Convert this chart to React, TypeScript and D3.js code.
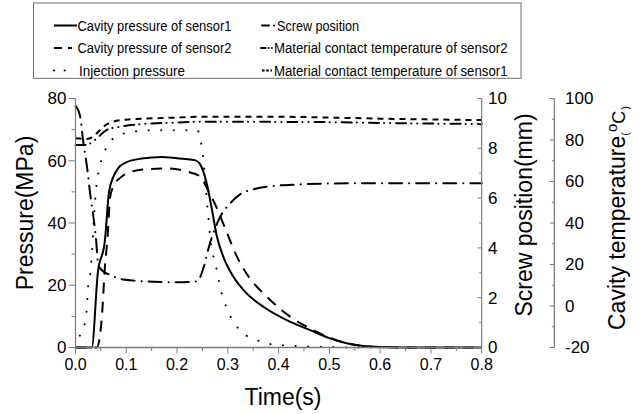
import React from "react";
import * as d3 from "d3";

// ---- data ----
const cp1Time = [0, 0.032, 0.044, 0.058, 0.066, 0.075, 0.084, 0.1, 0.13, 0.17, 0.2, 0.235, 0.245, 0.258, 0.268, 0.278, 0.291, 0.311, 0.337, 0.37, 0.416, 0.462, 0.5, 0.534, 0.567, 0.6, 0.65, 0.8];
const cp1Values = [0, 0, 24, 34.5, 50, 55, 57.6, 59.5, 60.7, 61.2, 60.8, 60.2, 59, 53, 45, 36, 29.2, 22.7, 17.4, 13.1, 8.8, 5.6, 3, 1.35, 0.5, 0.15, 0, 0];

const cp2Time = [0, 0.042, 0.052, 0.058, 0.063, 0.068, 0.075, 0.088, 0.11, 0.14, 0.18, 0.22, 0.245, 0.258, 0.275, 0.298, 0.317, 0.34, 0.377, 0.422, 0.468, 0.5, 0.534, 0.567, 0.6, 0.65, 0.8];
const cp2Values = [0, 0, 10, 26, 35, 48, 52, 54.5, 56.5, 57.3, 57.5, 56.5, 55, 51.5, 46, 37, 29.5, 23, 16.3, 10, 5.6, 3.2, 1.4, 0.5, 0.1, 0, 0];

const injTime = [0, 0.009, 0.019, 0.022, 0.025, 0.03, 0.033, 0.036, 0.042, 0.048, 0.055, 0.065, 0.088, 0.113, 0.15, 0.24, 0.247, 0.252, 0.26, 0.265, 0.278, 0.288, 0.298, 0.311, 0.33, 0.357, 0.38, 0.42, 0.5, 0.55, 0.8];
const injValues = [0, 4, 8.3, 12, 20, 25, 32, 41, 53, 58.5, 62, 65.5, 68.3, 69.3, 69.8, 69.8, 66, 60, 45, 36, 25, 17.4, 12.6, 8.3, 4.6, 2.4, 1.2, 0.6, 0.2, 0, 0];

const screwTime = [0, 0.009, 0.015, 0.023, 0.03, 0.035, 0.04, 0.045, 0.055, 0.068, 0.088, 0.12, 0.153, 0.212, 0.24, 0.252, 0.265, 0.285, 0.305, 0.324, 0.35, 0.377, 0.442, 0.508, 0.6, 0.8];
const screwValues = [9.7, 9.3, 8.3, 7.2, 6.0, 5.3, 4.45, 3.3, 3.05, 2.92, 2.75, 2.68, 2.64, 2.62, 2.66, 3.2, 4.2, 5.25, 5.8, 6.15, 6.35, 6.46, 6.55, 6.59, 6.6, 6.6];

const temp1Time = [0, 0.02, 0.035, 0.045, 0.055, 0.074, 0.1, 0.12, 0.186, 0.25, 0.4, 0.5, 0.6, 0.8];
const temp1Values = [80.8, 80.5, 81.6, 84, 86.4, 88.8, 89.8, 90.1, 90.7, 91.2, 91.2, 90.8, 90.3, 89.6];

const temp2Time = [0, 0.018, 0.03, 0.042, 0.061, 0.088, 0.127, 0.186, 0.25, 0.5, 0.6, 0.8];
const temp2Values = [77.6, 77.6, 78.5, 80.8, 84.8, 86.4, 87.6, 88.3, 88.8, 88.6, 88.2, 87.7];

const xTicks = [0, 0.1, 0.2, 0.3, 0.4, 0.5, 0.6, 0.7, 0.8];
const pressureTicks = [0, 20, 40, 60, 80];
const screwTicks = [0, 2, 4, 6, 8, 10];
const tempTicks = [-20, 0, 20, 40, 60, 80, 100];

const FONT = "'Liberation Sans', Arial, Helvetica, sans-serif";
const AXIS = "#7a7a7a";

// ---- styles ----
const SOLID = "";
const DASH = "11,8";
const DOT = "0.1,12.5";
const DASHDOT = "13,7,0.1,7";
const SHORTDASH = "6,5";
const DASHDOTDOT = "10,5,0.1,6,0.1,6";

export default function App() {
  const W = 639, H = 414;
  const x = d3.scaleLinear().domain([0, 0.8]).range([75.5, 481.7]);
  const yP = d3.scaleLinear().domain([0, 80]).range([347.5, 98.5]);
  const yS = d3.scaleLinear().domain([0, 10]).range([347.5, 98.5]);
  const yT = d3.scaleLinear().domain([-20, 100]).range([347.5, 98.5]);

  const mk = (ts: number[], vs: number[], y: d3.ScaleLinear<number, number>) =>
    d3.line<number>().x((_, i) => x(ts[i])).y((v) => y(v)).curve(d3.curveMonotoneX)(vs) || "";

  const series = [
    { d: mk(injTime, injValues, yP), dash: DOT, w: 2, cap: "round" },
    { d: mk(temp2Time, temp2Values, yT), dash: DASHDOTDOT, w: 2, cap: "round" },
    { d: mk(temp1Time, temp1Values, yT), dash: SHORTDASH, w: 2, cap: "butt" },
    { d: mk(screwTime, screwValues, yS), dash: DASHDOT, w: 2, cap: "round" },
    { d: mk(cp2Time, cp2Values, yP), dash: DASH, w: 2, cap: "butt" },
    { d: mk(cp1Time, cp1Values, yP), dash: SOLID, w: 2, cap: "butt" },
  ];

  const xMinor = d3.range(0, 0.8001, 0.05);
  const pMinor = d3.range(0, 80.01, 10);
  const sMinor = d3.range(0, 10.01, 1);
  const tMinor = d3.range(-20, 100.01, 10);

  const legendFont = 15.5;
  const legend = [
    { x1: 54, x2: 77, y: 25.5, dash: SOLID, cap: "butt", tx: 77.5, ty: 30.7, text: "Cavity pressure of sensor1", len: 154 },
    { x1: 54, x2: 72, y: 48, dash: "8,6", cap: "butt", tx: 77.5, ty: 53.2, text: "Cavity pressure of sensor2", len: 154 },
    { x1: 54, x2: 67, y: 70.5, dash: "0.1,10.5", cap: "round", tx: 79, ty: 75.5, text: "Injection pressure", len: 106 },
    { x1: 262, x2: 275, y: 25.5, dash: "7,5,0.1,20", cap: "round", tx: 277, ty: 30.7, text: "Screw position", len: 82 },
    { x1: 261, x2: 272.5, y: 48, dash: "4.5,3,0.1,3.2,0.1,20", cap: "round", tx: 274, ty: 53.2, text: "Material contact temperature of sensor2", len: 233.5 },
    { x1: 262, x2: 272, y: 70.5, dash: "2.6,1.6", cap: "butt", tx: 274, ty: 75.5, text: "Material contact temperature of sensor1", len: 233.5 },
  ];

  return (
    <svg width={W} height={H} style={{ display: "block", position: "absolute", left: 0, top: 0, background: "#fff" }} fontFamily={FONT}>
      <rect x={0} y={0} width={W} height={H} fill="#fff" />
      {/* legend */}
      <rect x={33.5} y={3} width={487.5} height={75.3} fill="none" stroke="#6e6e6e" strokeWidth={1} />
      {legend.map((l, i) => (
        <g key={i}>
          <line x1={l.x1} x2={l.x2} y1={l.y} y2={l.y} stroke="#000" strokeWidth={2}
            strokeDasharray={l.dash || undefined} strokeLinecap={l.cap as any} />
          <text x={l.tx} y={l.ty} fontSize={legendFont} textLength={l.len} lengthAdjust="spacingAndGlyphs" fill="#000">{l.text}</text>
        </g>
      ))}

      {/* series */}
      {series.map((s, i) => (
        <path key={i} d={s.d} fill="none" stroke="#000" strokeWidth={s.w}
          strokeDasharray={s.dash || undefined} strokeLinecap={s.cap as any} strokeLinejoin="round" />
      ))}

      {/* bottom axis */}
      <line x1={x(0)} x2={x(0.8)} y1={347.5} y2={347.5} stroke={AXIS} strokeWidth={1.5} />
      {xMinor.map((t, i) => (
        <line key={i} x1={x(t)} x2={x(t)} y1={347.5} y2={347.5 + (i % 2 === 0 ? 6 : 3.5)} stroke={AXIS} strokeWidth={1} />
      ))}
      {xTicks.map((t) => (
        <text key={t} x={x(t)} y={370} fontSize={16} textAnchor="middle" fill="#000">{t.toFixed(1)}</text>
      ))}
      <text x={283} y={404.5} fontSize={23} textAnchor="middle" fill="#000">Time(s)</text>

      {/* left axis */}
      <line x1={x(0)} x2={x(0)} y1={98.5} y2={347.5} stroke={AXIS} strokeWidth={1.2} />
      {pMinor.map((v, i) => (
        <line key={i} x1={x(0) - (i % 2 === 0 ? 7 : 4)} x2={x(0)} y1={yP(v)} y2={yP(v)} stroke={AXIS} strokeWidth={1} />
      ))}
      {pressureTicks.map((v) => (
        <text key={v} x={66.5} y={yP(v) + 5.8} fontSize={17} textAnchor="end" fill="#000">{v}</text>
      ))}
      <text transform={`translate(33,213) rotate(-90)`} fontSize={23} textAnchor="middle" fill="#000">Pressure(MPa)</text>

      {/* screw axis */}
      <line x1={x(0.8)} x2={x(0.8)} y1={98.5} y2={347.5} stroke={AXIS} strokeWidth={1.2} />
      {sMinor.map((v, i) => (
        <line key={i} x1={x(0.8) - (i % 2 === 0 ? 4 : 2.5)} x2={x(0.8)} y1={yS(v)} y2={yS(v)} stroke={AXIS} strokeWidth={1} />
      ))}
      {screwTicks.map((v) => (
        <text key={v} x={488} y={yS(v) + 5.8} fontSize={17} textAnchor="start" fill="#000">{v}</text>
      ))}
      <text transform={`translate(532,215) rotate(-90)`} fontSize={23} textAnchor="middle" fill="#000">Screw position(mm)</text>

      {/* temperature axis */}
      <line x1={554.3} x2={554.3} y1={98.5} y2={347.5} stroke={AXIS} strokeWidth={1.2} />
      {tMinor.map((v, i) => (
        <line key={i} x1={554.3 - (i % 2 === 0 ? 4.5 : 2.5)} x2={554.3} y1={yT(v)} y2={yT(v)} stroke={AXIS} strokeWidth={1} />
      ))}
      {tempTicks.map((v) => (
        <text key={v} x={565} y={yT(v) + 5.8} fontSize={17} textAnchor="start" fill="#000">{v}</text>
      ))}
      <text transform={`translate(625,218) rotate(-90)`} fontSize={23} textAnchor="middle" fill="#000">
        Cavity temperature
        <tspan fontSize={11} dy={4}>(</tspan>
        <tspan fontSize={15} dy={-12}>o</tspan>
        <tspan fontSize={18} dy={8}>C</tspan>
        <tspan fontSize={11} dy={4} dx={1}>)</tspan>
      </text>
    </svg>
  );
}
